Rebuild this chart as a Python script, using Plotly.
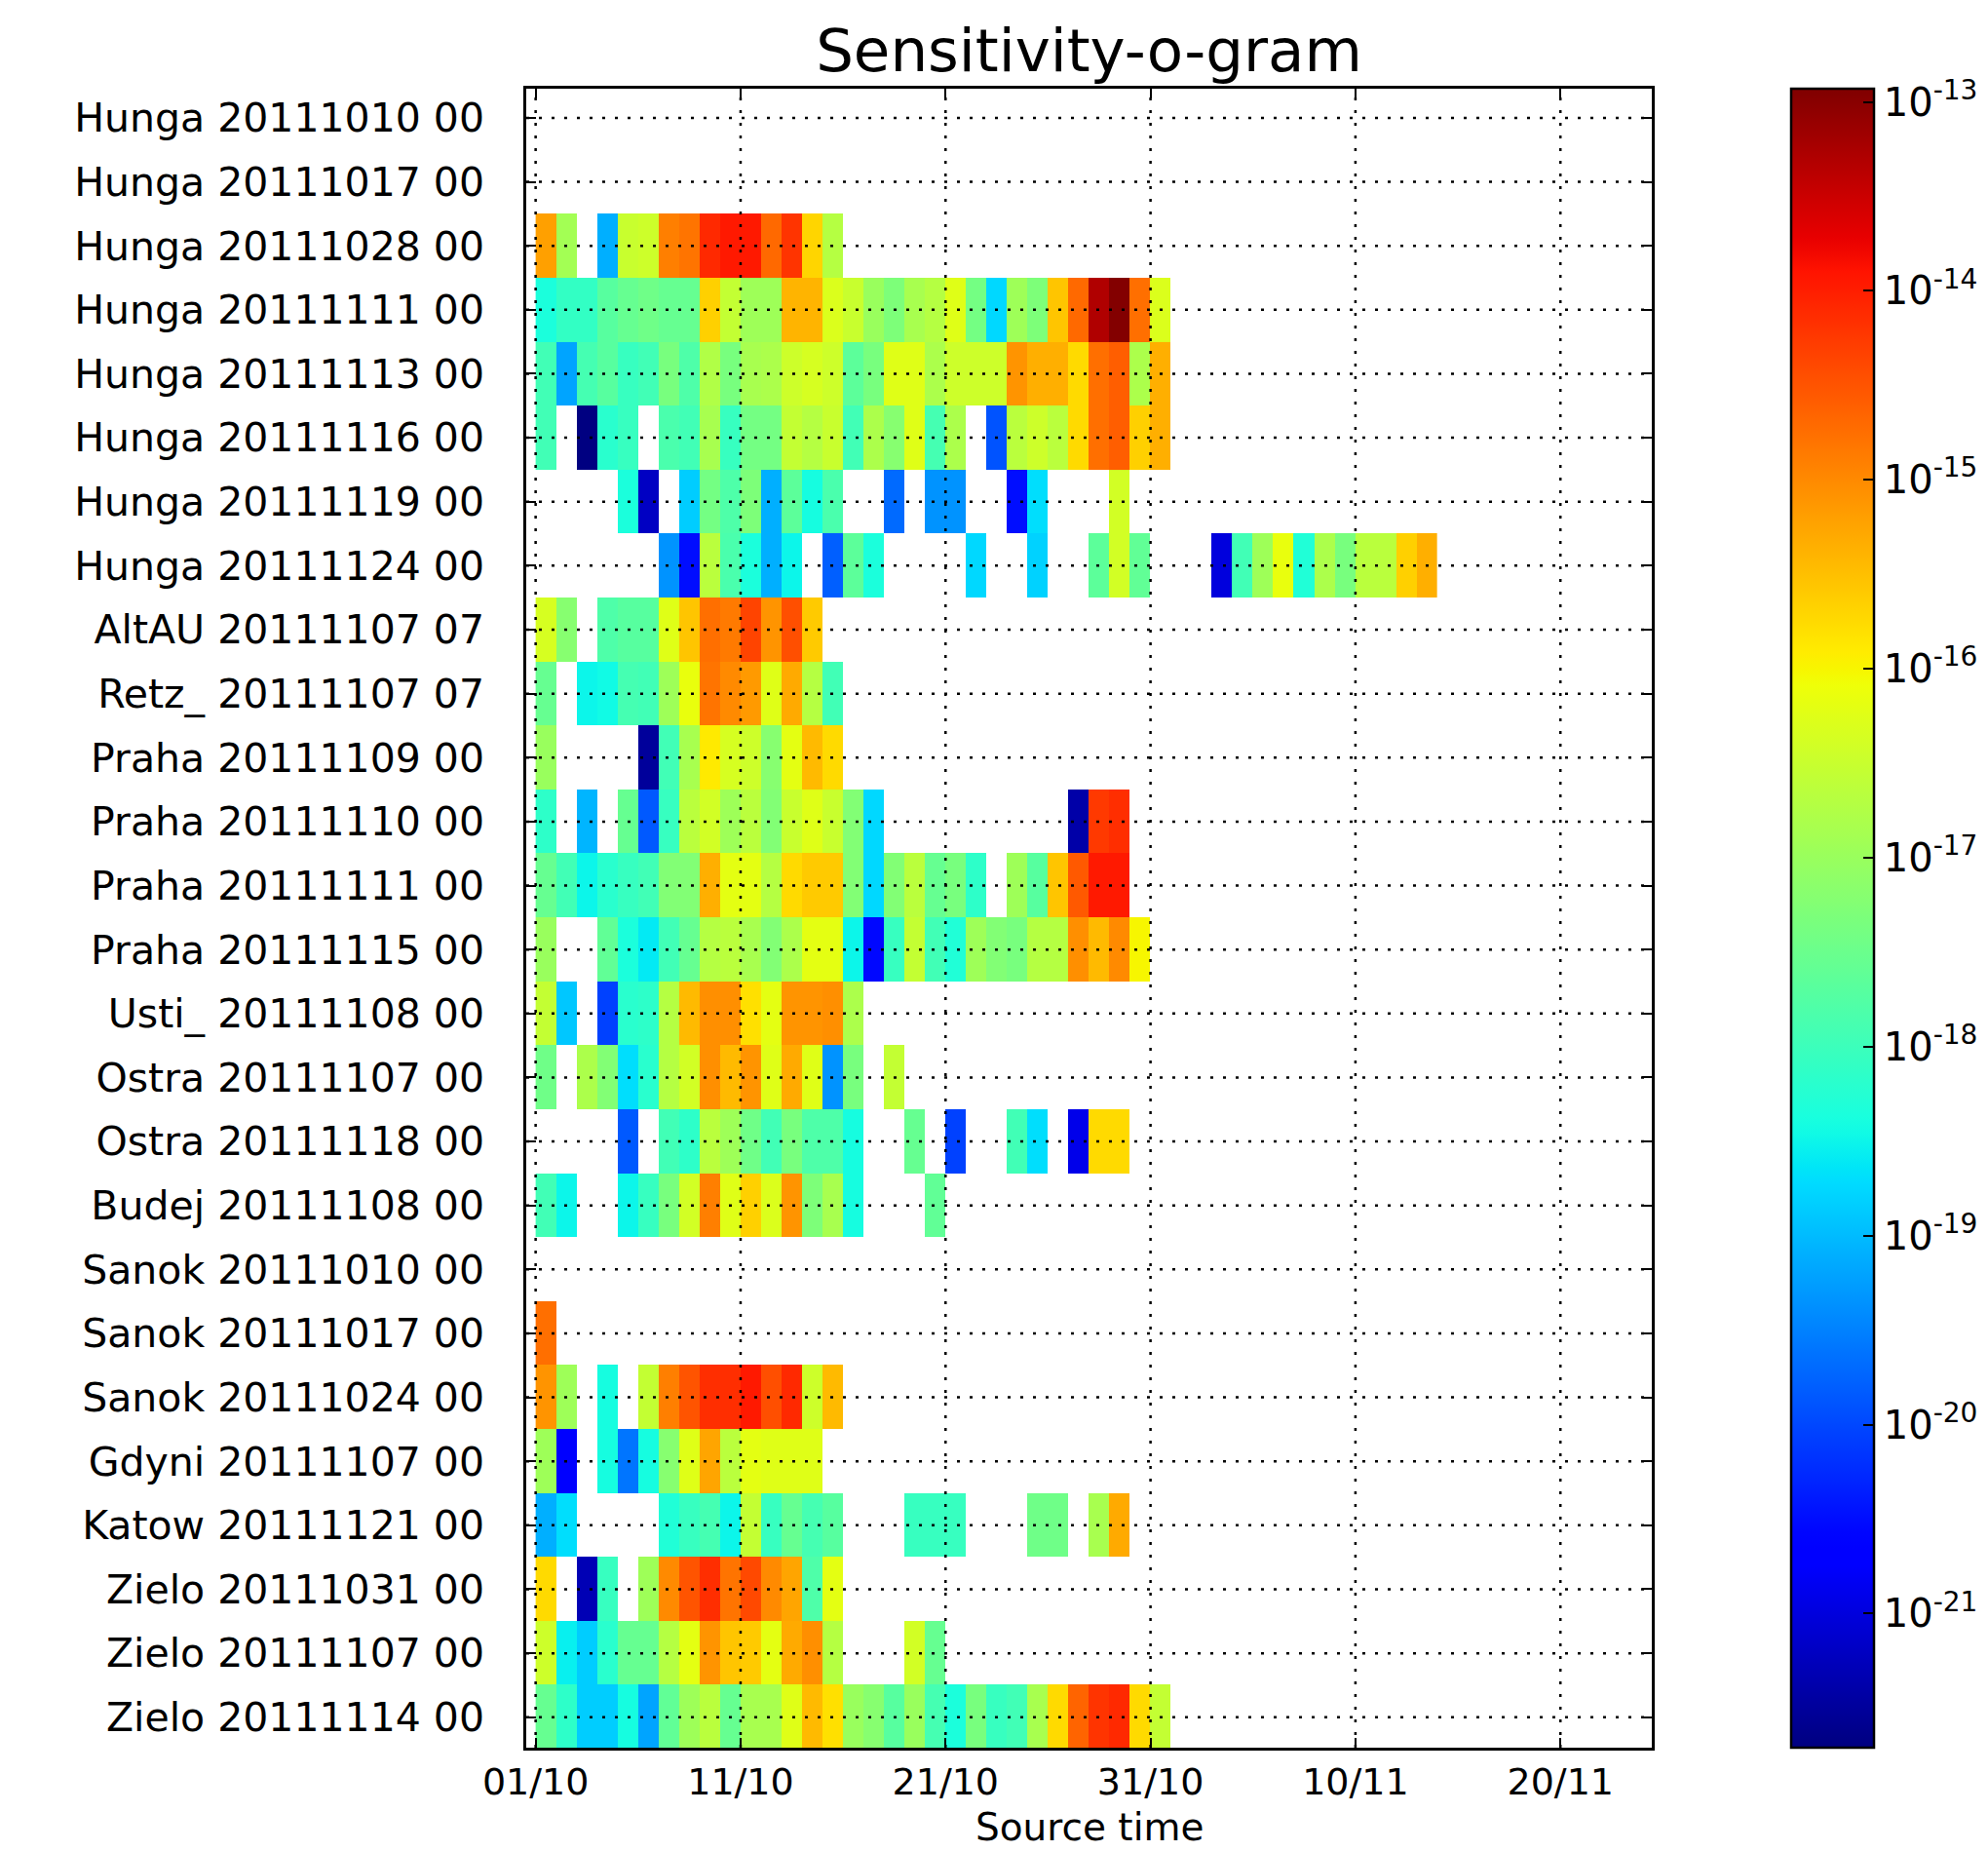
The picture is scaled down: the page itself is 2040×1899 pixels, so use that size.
import numpy as np
import pandas as pd
import plotly.graph_objects as go

N = None

# Row labels (receptor / measurement), top to bottom
row_labels = [
    "Hunga 20111010 00", "Hunga 20111017 00", "Hunga 20111028 00", "Hunga 20111111 00",
    "Hunga 20111113 00", "Hunga 20111116 00", "Hunga 20111119 00", "Hunga 20111124 00",
    "AltAU 20111107 07", "Retz_ 20111107 07", "Praha 20111109 00", "Praha 20111110 00",
    "Praha 20111111 00", "Praha 20111115 00", "Usti_ 20111108 00", "Ostra 20111107 00",
    "Ostra 20111118 00", "Budej 20111108 00", "Sanok 20111010 00", "Sanok 20111017 00",
    "Sanok 20111024 00", "Gdyni 20111107 00", "Katow 20111121 00", "Zielo 20111031 00",
    "Zielo 20111107 00", "Zielo 20111114 00",
]

# Source days (one cell per day, starting 2011-10-01)
source_start = "2011-10-01"
n_days = 44

# log10(sensitivity) per row, one value per source day (None = no value)
hunga_20111010 = []
hunga_20111017 = []
hunga_20111028 = [-15.2, -16.9, N, -19.1, -16.5, -16.45, -14.9, -14.8, -14.1, -13.95, -13.95, -14.7, -14.2, -15.7, -16.7]
hunga_20111111 = [-18.35, -18.1, -18.1, -17.7, -17.55, -17.45, -17.55, -17.55, -15.65, -16.55, -16.95, -16.95, -15.4, -15.4,
                  -16.3, -16.5, -17.0, -17.3, -16.85, -16.7, -16.25, -17.4, -18.75, -16.95, -17.3, -15.55, -14.7, -13.3,
                  -12.95, -14.75, -16.3]
hunga_20111113 = [-17.95, -19.2, -17.9, -17.7, -18.05, -17.95, -17.35, -17.8, -16.75, -17.35, -16.85, -16.8, -16.45, -16.35,
                  -16.45, -17.65, -17.35, -16.25, -16.25, -16.8, -16.45, -16.45, -16.45, -15.1, -15.35, -15.35, -15.75,
                  -14.75, -14.6, -16.8, -15.35]
hunga_20111116 = [-17.95, N, -21.7, -18.2, -18.05, N, -17.85, -17.95, -16.85, -18.05, -17.4, -17.4, -16.55, -16.7, -16.5,
                  -17.95, -16.8, -17.2, -16.25, -17.9, -16.8, N, -19.9, -16.65, -16.45, -16.65, -15.75, -14.75, -14.6,
                  -15.65, -15.35]
hunga_20111119 = [N, N, N, N, -18.35, -21.2, N, -18.85, -17.4, -17.8, -17.3, -19.1, -17.65, -18.4, -17.85, N, N, -19.7, N,
                  -19.35, -19.35, N, N, -20.5, -18.7, N, N, N, -16.4]
hunga_20111124 = [N, N, N, N, N, N, -19.35, -20.5, -16.65, -17.85, -18.35, -19.1, -18.5, N, -19.8, -17.65, -18.35, N, N, N,
                  N, -18.75, N, N, -18.8, N, N, -17.65, -16.4, -17.6, N, N, N, -21.0, -17.95, -16.95, -16.15, -18.3, -16.8,
                  -17.35, -16.65, -16.65, -15.65, -15.35]
altau_20111107 = [-16.35, -17.2, N, -17.8, -17.7, -17.7, -16.25, -15.55, -14.75, -14.85, -14.35, -15.1, -14.45, -15.6]
retz_20111107 = [-17.55, N, -18.5, -18.45, -17.9, -17.95, -16.95, -16.15, -14.8, -15.0, -15.15, -16.25, -15.3, -16.7, -17.95]
praha_20111109 = [-17.0, N, N, N, N, -21.5, -17.95, -16.85, -15.9, -16.35, -16.45, -17.2, -16.2, -15.45, -15.75]
praha_20111110 = [-18.15, N, -19.05, N, -17.55, -19.85, -18.05, -16.65, -16.4, -16.95, -16.65, -17.25, -16.5, -16.25, -16.5,
                  -17.25, -18.75, N, N, N, N, N, N, N, N, N, -21.4, -14.25, -14.15]
praha_20111111 = [-17.55, -17.95, -18.5, -18.2, -18.05, -17.95, -17.25, -17.25, -15.35, -16.2, -16.2, -16.7, -15.75, -15.6,
                  -15.6, -17.25, -18.75, -17.25, -16.65, -17.55, -17.35, -18.15, N, -16.95, -17.7, -15.55, -14.55, -13.95,
                  -13.95]
praha_20111115 = [-17.0, N, N, -17.6, -18.35, -18.6, -17.95, -17.55, -16.7, -16.65, -16.85, -17.25, -16.8, -16.2, -16.2,
                  -18.5, -20.55, -18.05, -16.55, -17.95, -18.3, -16.95, -17.25, -17.35, -16.7, -16.7, -15.05, -15.45,
                  -15.0, -16.0]
usti_20111108 = [-16.55, -18.9, N, -20.05, -18.2, -18.15, -16.7, -15.45, -15.05, -15.05, -15.8, -16.2, -15.1, -15.1, -15.05,
                 -16.8]
ostra_20111107 = [-17.45, N, -16.8, -17.25, -18.7, -18.2, -16.7, -16.4, -15.05, -15.45, -15.1, -16.25, -15.3, -16.25, -19.35,
                  -17.35, N, -16.55]
ostra_20111118 = [N, N, N, N, -19.85, N, -17.95, -18.15, -16.65, -16.95, -17.45, -17.95, -17.35, -17.8, -17.8, -18.4, N, N,
                  -17.55, N, -20.05, N, N, -17.95, -18.7, N, -20.9, -15.75, -15.75]
budej_20111108 = [-17.95, -18.5, N, N, -18.5, -18.05, -17.35, -16.4, -14.9, -16.25, -15.65, -16.3, -15.1, -17.3, -16.85,
                  -18.4, N, N, N, -17.6]
sanok_20111010 = []
sanok_20111017 = [-14.75]
sanok_20111024 = [-15.1, -16.95, N, -18.4, N, -16.55, -14.9, -14.5, -14.15, -14.15, -13.95, -14.45, -14.1, -16.45, -15.45]
gdyni_20111107 = [-16.95, -20.65, N, -18.4, -19.6, -18.4, -17.2, -16.25, -15.25, -16.65, -16.2, -16.25, -16.25, -16.25]
katow_20111121 = [-19.1, -18.7, N, N, N, N, -18.3, -18.05, -17.9, -18.5, -16.55, -18.05, -17.55, -17.9, -17.7, N, N, N,
                  -18.05, -18.05, -18.05, N, N, N, -17.45, -17.45, N, -16.85, -15.3]
zielo_20111031 = [-15.75, N, -21.3, -18.05, N, -16.95, -15.0, -14.5, -14.15, -14.8, -14.4, -15.0, -15.25, -17.8, -16.2]
zielo_20111107 = [-16.45, -18.55, -18.85, -18.2, -17.55, -17.55, -16.7, -16.2, -15.1, -15.55, -15.6, -16.2, -15.3, -15.05,
                  -16.7, N, N, N, -16.4, -17.55]
zielo_20111114 = [-17.55, -18.15, -18.85, -18.85, -18.4, -19.2, -17.6, -16.95, -16.65, -17.55, -16.85, -16.85, -16.25, -15.45,
                  -15.8, -17.0, -17.2, -17.7, -17.0, -17.9, -18.35, -17.35, -18.05, -17.95, -16.85, -15.75, -14.65, -14.2,
                  -14.1, -15.75, -16.55]

rows = [hunga_20111010, hunga_20111017, hunga_20111028, hunga_20111111, hunga_20111113, hunga_20111116,
        hunga_20111119, hunga_20111124, altau_20111107, retz_20111107, praha_20111109, praha_20111110,
        praha_20111111, praha_20111115, usti_20111108, ostra_20111107, ostra_20111118, budej_20111108,
        sanok_20111010, sanok_20111017, sanok_20111024, gdyni_20111107, katow_20111121, zielo_20111031,
        zielo_20111107, zielo_20111114]

# Colour scale limits (log10), colorbar ticks
z_min, z_max = -21.71, -12.93
cbar_exponents = [-21, -20, -19, -18, -17, -16, -15, -14, -13]

# x ticks every 10 days
x_ticks = pd.date_range("2011-10-01", periods=6, freq="10D")
x_range = ["2011-09-30 13:00", "2011-11-24 11:00"]

# ---- build ----
z = [r + [None] * (n_days - len(r)) for r in rows]
days = pd.date_range(source_start, periods=n_days, freq="D") + pd.Timedelta(hours=12)


def mpl_jet(f):
    r = np.interp(f, [0, 0.35, 0.66, 0.89, 1], [0, 0, 1, 1, 0.5])
    g = np.interp(f, [0, 0.125, 0.375, 0.64, 0.91, 1], [0, 0, 1, 1, 0, 0])
    b = np.interp(f, [0, 0.11, 0.34, 0.65, 1], [0.5, 1, 1, 0, 0])
    return f"rgb({int(round(r*255))},{int(round(g*255))},{int(round(b*255))})"


jet_scale = [[f, mpl_jet(f)] for f in np.linspace(0, 1, 101)]

FONT = "DejaVu Sans"
# page body adds an 8px margin; figure is sized so the photographed layout matches
W, H = 2032, 1891
L, R, T, B = 532, 1687, 83, 1785   # plot area in figure pixels

fig = go.Figure()
fig.add_trace(go.Heatmap(
    x=days, y=row_labels, z=z,
    colorscale=jet_scale, zmin=z_min, zmax=z_max,
    hoverongaps=False,
    colorbar=dict(
        x=(1830 - L) / (R - L), xanchor="left", xpad=0, y=0.5, yanchor="middle", ypad=0,
        len=1, lenmode="fraction", thickness=85,
        outlinewidth=2.5, outlinecolor="black",
        tickvals=cbar_exponents,
        ticktext=[f"10<sup>{e}</sup>" for e in cbar_exponents],
        ticks="inside", ticklen=12, tickwidth=1.5, tickcolor="black",
        tickfont=dict(family=FONT, size=40, color="black"),
    ),
))

shapes = []
for t in x_ticks:
    shapes.append(dict(type="line", xref="x", yref="paper", x0=t, x1=t, y0=0, y1=1, layer="above",
                       line=dict(color="black", width=2.5, dash="3px,10px")))
for lab in row_labels:
    shapes.append(dict(type="line", xref="paper", yref="y", x0=0, x1=1, y0=lab, y1=lab, layer="above",
                       line=dict(color="black", width=2.5, dash="3px,10px")))

fig.update_layout(
    width=W, height=H,
    margin=dict(l=L, r=W - R, t=T, b=H - B, autoexpand=False),
    paper_bgcolor="white", plot_bgcolor="white",
    font=dict(family=FONT, size=38, color="black"),
    title=dict(text="Sensitivity-o-gram", x=0.5, xref="paper", xanchor="center",
               y=1 - 44 / H, yref="container", yanchor="middle",
               font=dict(family=FONT, size=61, color="black")),
    shapes=shapes,
    showlegend=False,
    annotations=[dict(text="Source time", xref="paper", yref="paper", x=0.5, xanchor="center",
                      y=-(1866 - B) / (B - T), yanchor="middle", showarrow=False,
                      font=dict(family=FONT, size=39, color="black"))],
)
fig.update_xaxes(
    type="date", range=x_range, tickvals=list(x_ticks), tickformat="%d/%m",
    showgrid=False, zeroline=False,
    showline=True, linecolor="black", linewidth=2.5, mirror="ticks",
    ticks="inside", ticklen=10, tickwidth=2, tickcolor="black",
    layer="above traces", ticklabelstandoff=0,
    tickfont=dict(family=FONT, size=38, color="black"),
)
fig.update_yaxes(
    type="category", categoryarray=row_labels, categoryorder="array",
    range=[25.476, -0.456],
    showgrid=False, zeroline=False,
    showline=True, linecolor="black", linewidth=2.5, mirror="ticks",
    ticks="inside", ticklen=10, tickwidth=2, tickcolor="black",
    layer="above traces", ticklabelstandoff=32,
    tickfont=dict(family=FONT, size=41, color="black"),
)

fig.write_html("out.html")
